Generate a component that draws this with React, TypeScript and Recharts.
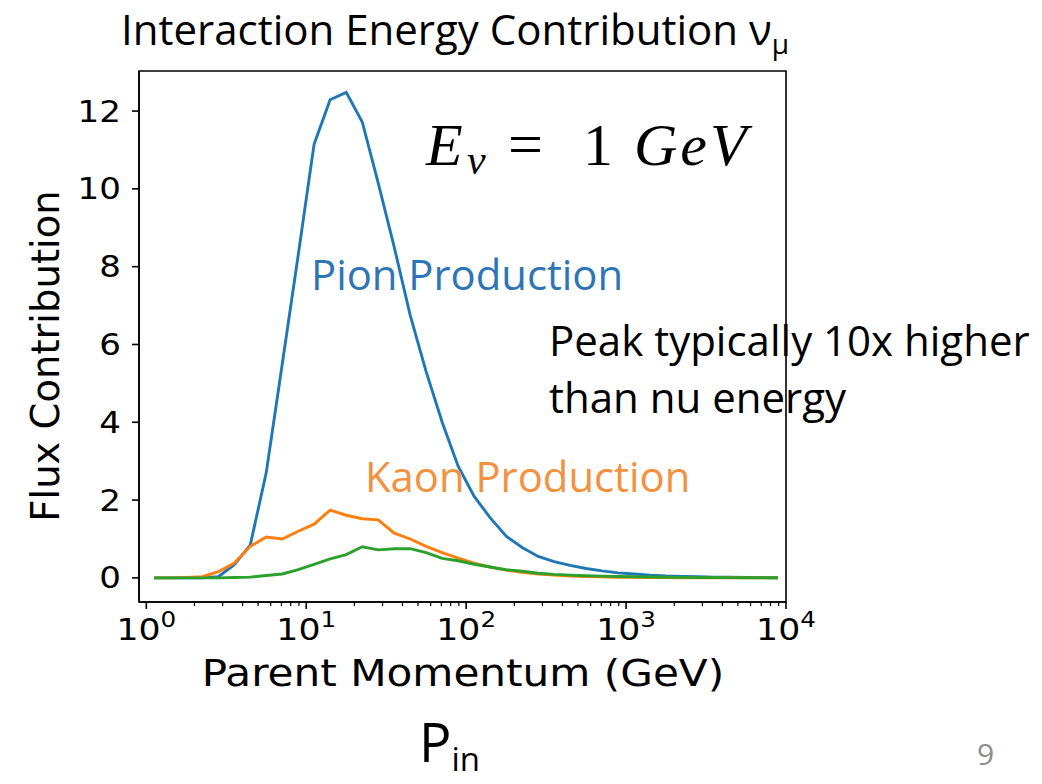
import { LineChart, Line, XAxis, YAxis, ReferenceArea } from "recharts";

// parent momentum bin centres (GeV), log-spaced
const momentum = [
  1.12, 1.41, 1.78, 2.24, 2.82, 3.55, 4.47, 5.62, 7.08, 8.91,
  11.2, 14.1, 17.8, 22.4, 28.2, 35.5, 44.7, 56.2, 70.8, 89.1,
  112, 141, 178, 224, 282, 355, 447, 562, 708, 891,
  1122, 1413, 1778, 2239, 2818, 3548, 4467, 5623, 7079, 8913,
];

const pionFlux = [
  0, 0, 0, 0, 0.03, 0.34, 0.85, 2.7, 5.5, 8.3,
  11.15, 12.29, 12.48, 11.72, 10.15, 8.5, 6.75, 5.3, 4.0, 2.87,
  2.1, 1.55, 1.07, 0.78, 0.55, 0.42, 0.32, 0.24, 0.18, 0.13,
  0.1, 0.07, 0.05, 0.04, 0.03, 0.02, 0.015, 0.01, 0.006, 0.004,
];

const kaonFlux = [
  0, 0, 0.01, 0.03, 0.16, 0.38, 0.81, 1.05, 1.0, 1.2,
  1.38, 1.74, 1.61, 1.52, 1.49, 1.15, 1.0, 0.81, 0.65, 0.51,
  0.38, 0.28, 0.2, 0.14, 0.1, 0.07, 0.05, 0.035, 0.025, 0.018,
  0.012, 0.008, 0.006, 0.004, 0.003, 0.002, 0.002, 0.001, 0.001, 0,
];

const otherFlux = [
  0, 0, 0, 0, 0, 0.01, 0.02, 0.06, 0.1, 0.21,
  0.35, 0.49, 0.6, 0.8, 0.72, 0.75, 0.75, 0.65, 0.5, 0.44,
  0.35, 0.28, 0.21, 0.17, 0.12, 0.09, 0.07, 0.055, 0.045, 0.035,
  0.028, 0.022, 0.017, 0.013, 0.01, 0.008, 0.006, 0.005, 0.004, 0.003,
];

const majorTicks = [1, 10, 100, 1000, 10000];
const minorTicks = [
  2, 3, 4, 5, 6, 7, 8, 9,
  20, 30, 40, 50, 60, 70, 80, 90,
  200, 300, 400, 500, 600, 700, 800, 900,
  2000, 3000, 4000, 5000, 6000, 7000, 8000, 9000,
];
const yTicks = [0, 2, 4, 6, 8, 10, 12];

const X_DOMAIN: [number, number] = [0.9, 10000];
const Y_DOMAIN: [number, number] = [-0.62, 13.03];

const data = momentum.map((p, i) => ({
  p,
  pion: pionFlux[i],
  kaon: kaonFlux[i],
  other: otherFlux[i],
}));

const MPL_FONT = "'DejaVu Sans', sans-serif";
const SLIDE_FONT = "'Open Sans', sans-serif";

const XTick = (props: any) => {
  const { x, y, payload } = props;
  const v = payload.value as number;
  const exp = Math.round(Math.log10(v));
  const major = majorTicks.includes(v);
  return (
    <g>
      <line x1={x} x2={x} y1={y} y2={y + (major ? 7 : 4)} stroke="#000" strokeWidth={major ? 1.6 : 1.2} />
      {major && (
        <text
          transform={`translate(${x},${y + 38}) scale(1.12,1)`}
          textAnchor="middle"
          fontFamily={MPL_FONT}
          fontSize={31}
          fill="#000"
        >
          10
          <tspan fontSize={22} dy={-13}>{exp}</tspan>
        </text>
      )}
    </g>
  );
};

const YTick = (props: any) => {
  const { x, y, payload } = props;
  return (
    <text
      transform={`translate(${x},${y}) scale(1.1,1)`}
      textAnchor="end"
      dominantBaseline="central"
      fontFamily={MPL_FONT}
      fontSize={31}
      fill="#000"
    >
      {payload.value}
    </text>
  );
};

export default function App() {
  return (
    <div style={{ position: "absolute", left: 0, top: 0, width: 1042, height: 784, background: "#fff" }}>
      <LineChart
        width={1042}
        height={784}
        data={data}
        margin={{ top: 71, right: 256, bottom: 122, left: 79 }}
      >
        <XAxis
          dataKey="p"
          type="number"
          scale="log"
          domain={X_DOMAIN}
          allowDataOverflow
          ticks={[...majorTicks, ...minorTicks].sort((a, b) => a - b)}
          interval={0}
          tick={<XTick />}
          tickLine={false}
          tickSize={0}
          tickMargin={0}
          axisLine={{ stroke: "#000", strokeWidth: 1.6 }}
          height={60}
        />
        <YAxis
          type="number"
          domain={Y_DOMAIN}
          allowDataOverflow
          ticks={yTicks}
          interval={0}
          tick={<YTick />}
          tickSize={7}
          tickMargin={11}
          tickLine={{ stroke: "#000", strokeWidth: 1.6 }}
          axisLine={{ stroke: "#000", strokeWidth: 1.6 }}
          width={60}
        />
        <ReferenceArea
          x1={X_DOMAIN[0]}
          x2={X_DOMAIN[1]}
          y1={Y_DOMAIN[0]}
          y2={Y_DOMAIN[1]}
          fill="none"
          fillOpacity={0}
          stroke="#000"
          strokeWidth={1.6}
          ifOverflow="visible"
        />
        <Line type="linear" dataKey="pion" stroke="#1f77b4" strokeWidth={2.9} dot={false} isAnimationActive={false} />
        <Line type="linear" dataKey="kaon" stroke="#ff7f0e" strokeWidth={2.9} dot={false} isAnimationActive={false} />
        <Line type="linear" dataKey="other" stroke="#2ca02c" strokeWidth={2.9} dot={false} isAnimationActive={false} />
      </LineChart>

      <svg
        width={1042}
        height={784}
        style={{ position: "absolute", left: 0, top: 0, pointerEvents: "none" }}
      >
        {/* title */}
        <text x={121} y={45} fontFamily={SLIDE_FONT} fontSize={42} fill="#000">
          Interaction Energy Contribution ν<tspan fontSize={28} dy={9}>μ</tspan>
        </text>

        {/* axis labels */}
        <text
          transform="translate(463,686) scale(1.14,1)"
          textAnchor="middle"
          fontFamily={MPL_FONT}
          fontSize={37}
          fill="#000"
        >
          Parent Momentum (GeV)
        </text>
        <text
          transform="translate(59,356) rotate(-90)"
          textAnchor="middle"
          fontFamily={MPL_FONT}
          fontSize={38.5}
          fill="#000"
        >
          Flux Contribution
        </text>

        {/* E_nu = 1 GeV */}
        <g fontFamily="'Liberation Serif', serif" fill="#000">
          <text x={426} y={165} fontSize={60} fontStyle="italic">E</text>
          <text x={467} y={174} fontSize={42} fontStyle="italic">ν</text>
          <text x={508} y={165} fontSize={62}>=</text>
          <text x={583} y={165} fontSize={60}>1</text>
          <text x={634} y={165} fontSize={60} fontStyle="italic" letterSpacing={3}>GeV</text>
        </g>

        {/* annotations */}
        <text x={311} y={290} fontFamily={SLIDE_FONT} fontSize={41.8} fill="#2e75b6">
          Pion Production
        </text>
        <text x={365} y={492} fontFamily={SLIDE_FONT} fontSize={41.8} fill="#f4913f">
          Kaon Production
        </text>
        <text x={549} y={356} fontFamily={SLIDE_FONT} fontSize={42} fill="#000">
          Peak typically 10x higher
        </text>
        <text x={549} y={413} fontFamily={SLIDE_FONT} fontSize={42} fill="#000">
          than nu energy
        </text>

        {/* footer */}
        <text x={419} y={762} fontFamily={SLIDE_FONT} fontSize={54} fill="#000">
          P<tspan fontSize={33} dy={9}>in</tspan>
        </text>
        <text x={977} y={765} fontFamily={SLIDE_FONT} fontSize={30} fill="#8c8c8c">
          9
        </text>
      </svg>
    </div>
  );
}
